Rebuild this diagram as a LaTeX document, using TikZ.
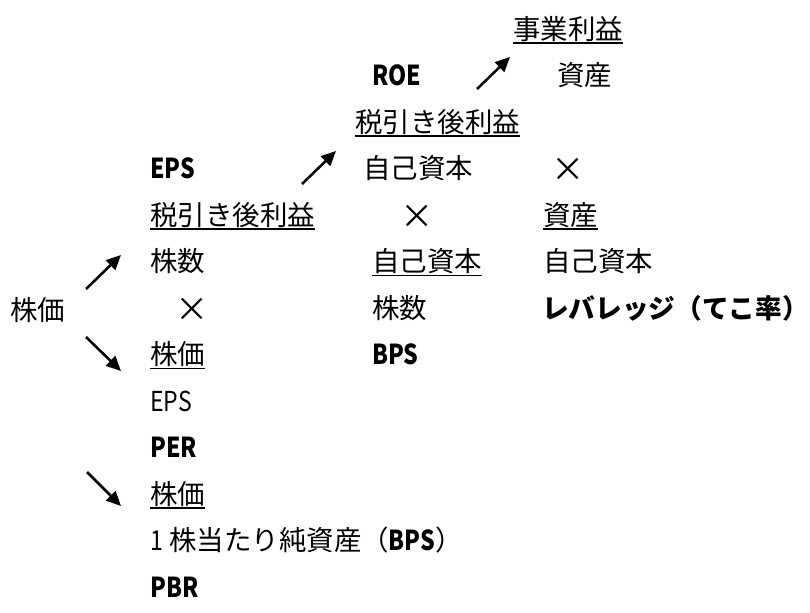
\documentclass[tikz,border=0pt]{standalone}
\usepackage{fontspec}
\setmainfont{Noto Sans CJK JP}
\newfontfamily\latn{Noto Sans CJK JP}[FakeStretch=0.84]
\usetikzlibrary{arrows.meta}
\newcommand\lbf[1]{{\latn\bfseries #1}}
\newcommand\lrg[1]{{\latn #1}}
\begin{document}
\begin{tikzpicture}[x=0.75pt,y=-0.75pt,
  every node/.style={font=\fontsize{20.6pt}{24pt}\selectfont},
  txt/.style={anchor=west,inner sep=0pt,text height=18.1pt,text depth=2.5pt},
  times/.style={anchor=center,inner sep=0pt,font=\fontsize{25pt}{28pt}\selectfont},
  ulline/.style={line width=1.3pt},
  arr/.style={line width=1.9pt,-{Triangle[length=11pt,width=10pt]}}]
\useasboundingbox (0,0) rectangle (810,613);
% row 0
\node[txt] (jigyo) at (513,29) {事業利益};
% row 1
\node[txt] (roe) at (372,75.5) {\lbf{ROE}};
\node[txt] (shisan1) at (557,75.5) {資産};
% row 2
\node[txt] (zeibiki1) at (355,122) {税引き後利益};
% row 3
\node[txt] (eps1) at (150,168.5) {\lbf{EPS}};
\node[txt] (jiko1) at (363,168.5) {自己資本};
\node[times] (x1) at (568.5,170) {×};
% row 4
\node[txt] (zeibiki2) at (150,215) {税引き後利益};
\node[times] (x2) at (417,217) {×};
\node[txt] (shisan2) at (543,215) {資産};
% row 5
\node[txt] (kabusu1) at (150,261.5) {株数};
\node[txt] (jiko2) at (372,261.5) {自己資本};
\node[txt] (jiko3) at (543,261.5) {自己資本};
% row 6
\node[txt] (kabuka0) at (10,310) {株価};
\node[times] (x3) at (192,310) {×};
\node[txt] (kabusu2) at (372,308) {株数};
\node[txt,font=\fontsize{20pt}{24pt}\selectfont] (lev) at (542,308) {\bfseries レバレッジ（てこ率）};
% row 7
\node[txt] (kabuka1) at (150,354.5) {株価};
\node[txt] (bps) at (372,354.5) {\lbf{BPS}};
% row 8
\node[txt] (eps2) at (150,401) {\lrg{EPS}};
% row 9
\node[txt] (per) at (150,447.5) {\lbf{PER}};
% row 10
\node[txt] (kabuka2) at (150,494) {株価};
% row 11
\node[txt] (junshisan) at (150,540.5) {\lrg{1} 株当たり純資産（\lbf{BPS}）};
% row 12
\node[txt] (pbr) at (150,587) {\lbf{PBR}};
% underlines
\draw[ulline] (jigyo.south west) -- (jigyo.south east);
\draw[ulline] (zeibiki1.south west) -- (zeibiki1.south east);
\draw[ulline] (zeibiki2.south west) -- (zeibiki2.south east);
\draw[ulline] (shisan2.south west) -- (shisan2.south east);
\draw[ulline] (jiko2.south west) -- (jiko2.south east);
\draw[ulline] (kabuka1.south west) -- (kabuka1.south east);
\draw[ulline] (kabuka2.south west) -- (kabuka2.south east);
% arrows
\coordinate (a1s) at (477,89);  \coordinate (a1e) at (510,57);
\coordinate (a2s) at (302,184); \coordinate (a2e) at (336,151);
\coordinate (a3s) at (86,289);  \coordinate (a3e) at (121,255);
\coordinate (a4s) at (86,337);  \coordinate (a4e) at (121,371);
\coordinate (a5s) at (87,472);  \coordinate (a5e) at (121,506);
\draw[arr] (a1s) -- (a1e);
\draw[arr] (a2s) -- (a2e);
\draw[arr] (a3s) -- (a3e);
\draw[arr] (a4s) -- (a4e);
\draw[arr] (a5s) -- (a5e);
\end{tikzpicture}
\end{document}
